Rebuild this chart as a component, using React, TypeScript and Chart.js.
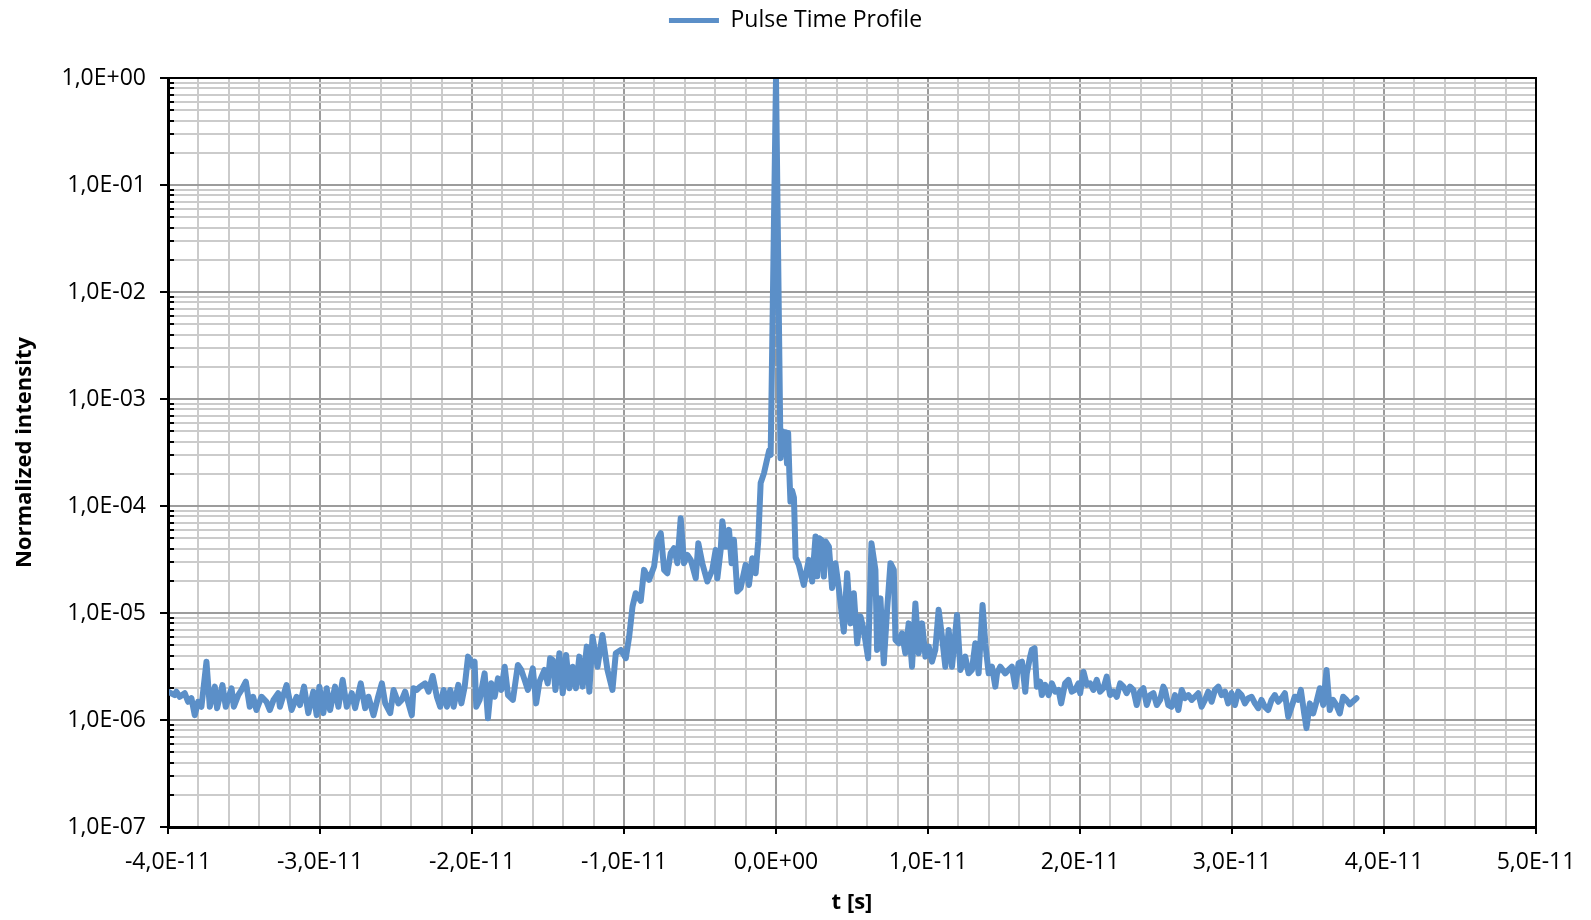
import { useEffect, useRef } from "react";
import { Chart, registerables } from "chart.js";

Chart.register(...registerables);

// Measured samples as [time in ps, normalized intensity]
const LEADING_BASELINE: [number, number][] = [
  [-40.0, 1.84e-6], [-39.56, 1.71e-6], [-39.45, 1.84e-6], [-39.23, 1.65e-6], [-38.9, 1.78e-6],
  [-38.68, 1.48e-6], [-38.46, 1.6e-6], [-38.24, 1.11e-6], [-38.02, 1.48e-6], [-37.8, 1.33e-6],
  [-37.47, 3.5e-6], [-37.25, 1.33e-6], [-36.92, 2.05e-6], [-36.77, 1.29e-6], [-36.42, 2.12e-6],
  [-36.2, 1.33e-6], [-35.82, 1.98e-6], [-35.67, 1.33e-6], [-35.38, 1.71e-6], [-35.16, 1.91e-6],
  [-34.88, 2.28e-6], [-34.62, 1.33e-6], [-34.4, 1.65e-6], [-34.18, 1.24e-6], [-33.85, 1.65e-6],
  [-33.52, 1.48e-6], [-33.3, 1.24e-6], [-33.05, 1.55e-6], [-32.75, 1.78e-6], [-32.64, 1.33e-6],
  [-32.2, 2.12e-6], [-31.87, 1.24e-6], [-31.54, 1.65e-6], [-31.32, 1.38e-6], [-31.05, 2.05e-6],
  [-30.77, 1.16e-6], [-30.44, 1.84e-6], [-30.22, 1.11e-6], [-30.04, 2.05e-6], [-29.78, 1.16e-6],
  [-29.56, 1.98e-6], [-29.34, 1.24e-6], [-29.01, 2.05e-6], [-28.79, 1.33e-6], [-28.51, 2.37e-6],
  [-28.24, 1.33e-6], [-27.91, 1.78e-6], [-27.69, 1.29e-6], [-27.32, 2.2e-6], [-27.03, 1.29e-6],
  [-26.81, 1.65e-6], [-26.48, 1.11e-6], [-26.2, 1.6e-6], [-25.93, 2.2e-6], [-25.71, 1.43e-6],
  [-25.38, 1.16e-6], [-25.16, 1.91e-6], [-24.84, 1.43e-6], [-24.62, 1.54e-6], [-24.4, 1.84e-6],
  [-23.96, 1.11e-6], [-23.85, 1.98e-6], [-23.63, 1.91e-6], [-23.41, 2.05e-6], [-23.08, 2.2e-6],
  [-22.86, 1.84e-6], [-22.59, 2.58e-6], [-22.31, 1.65e-6], [-22.09, 1.33e-6], [-21.87, 1.91e-6],
  [-21.65, 1.33e-6], [-21.43, 1.91e-6], [-21.21, 1.33e-6], [-20.9, 2.13e-6], [-20.7, 1.43e-6],
  [-20.48, 2.05e-6],
];

const PEDESTAL_RISE: [number, number][] = [
  [-20.26, 3.91e-6], [-20.05, 3.51e-6], [-19.94, 3.15e-6], [-19.83, 3.51e-6], [-19.72, 1.33e-6],
  [-19.5, 1.54e-6], [-19.17, 2.73e-6], [-18.95, 1.04e-6], [-18.73, 2.2e-6], [-18.51, 1.65e-6],
  [-18.29, 2.45e-6], [-18.07, 1.91e-6], [-17.85, 3.15e-6], [-17.63, 1.71e-6], [-17.31, 1.54e-6],
  [-16.98, 3.27e-6], [-16.76, 2.94e-6], [-16.54, 2.37e-6], [-16.32, 1.91e-6], [-16.0, 3.04e-6],
  [-15.78, 1.43e-6], [-15.56, 2.28e-6], [-15.23, 2.94e-6], [-15.02, 2.2e-6], [-14.86, 3.78e-6],
  [-14.69, 3.64e-6], [-14.51, 1.91e-6], [-14.25, 4.21e-6], [-14.03, 1.78e-6], [-13.81, 4.06e-6],
  [-13.59, 1.98e-6], [-13.38, 3.15e-6], [-13.16, 1.98e-6], [-12.94, 3.91e-6], [-12.72, 2.05e-6],
  [-12.45, 4.85e-6], [-12.28, 1.84e-6], [-12.07, 6.0e-6], [-11.74, 3.15e-6], [-11.42, 6.24e-6],
  [-11.09, 2.94e-6], [-10.76, 1.91e-6], [-10.54, 4.21e-6], [-10.21, 4.52e-6], [-9.88, 3.78e-6],
  [-9.66, 6.02e-6], [-9.44, 1.15e-5], [-9.23, 1.53e-5], [-8.9, 1.3e-5], [-8.68, 2.53e-5],
  [-8.35, 2.04e-5], [-8.02, 2.72e-5], [-7.8, 4.83e-5], [-7.58, 5.57e-5], [-7.36, 2.53e-5],
  [-7.15, 2.35e-5], [-6.93, 3.62e-5], [-6.71, 4.03e-5], [-6.49, 2.92e-5], [-6.27, 7.7e-5],
  [-6.05, 2.92e-5], [-5.83, 3.49e-5], [-5.61, 3.14e-5], [-5.28, 2.11e-5], [-5.11, 4.49e-5],
  [-4.85, 2.92e-5], [-4.52, 1.97e-5], [-4.19, 2.53e-5], [-3.97, 3.89e-5], [-3.86, 2.11e-5],
  [-3.64, 3.89e-5], [-3.53, 7.2e-5], [-3.31, 4.18e-5], [-3.09, 5.98e-5], [-2.92, 2.92e-5],
  [-2.77, 4.83e-5], [-2.55, 1.59e-5], [-2.33, 1.71e-5], [-2.0, 2.82e-5], [-1.78, 1.83e-5],
  [-1.56, 3.25e-5], [-1.34, 2.35e-5], [-1.17, 4.66e-5],
];

const MAIN_PULSE: [number, number][] = [
  [-1.01, 1.64e-4], [-0.79, 2.03e-4], [-0.62, 2.6e-4], [-0.45, 3.3e-4], [-0.35, 3.0e-4],
  [0.0, 1.0],
  [0.3, 2.8e-4], [0.42, 5.0e-4], [0.55, 3.5e-4], [0.64, 4.9e-4], [0.72, 2.5e-4],
  [0.8, 4.8e-4], [0.88, 2.0e-4], [0.95, 1.1e-4], [1.05, 1.4e-4], [1.18, 1.2e-4],
];

const TRAILING_PEDESTAL: [number, number][] = [
  [1.29, 3.3e-5], [1.5, 2.82e-5], [1.83, 1.83e-5], [2.16, 3.14e-5], [2.38, 1.97e-5],
  [2.6, 5.19e-5], [2.71, 2.2e-5], [2.85, 5.0e-5], [3.0, 4.8e-5], [3.15, 2.19e-5],
  [3.26, 4.66e-5], [3.48, 4.18e-5], [3.69, 1.71e-5], [3.91, 2.92e-5], [4.13, 1.71e-5],
  [4.46, 6.7e-6], [4.68, 2.35e-5], [4.9, 8.0e-6], [5.12, 1.53e-5], [5.34, 5.21e-6],
  [5.56, 9.3e-6], [5.77, 6.95e-6], [6.06, 3.78e-6], [6.28, 4.49e-5], [6.54, 2.53e-5],
  [6.65, 4.52e-6], [6.87, 1.37e-5], [7.09, 3.39e-6], [7.31, 1.07e-5], [7.53, 2.92e-5],
  [7.75, 2.53e-5], [7.86, 5.6e-6], [8.07, 5.21e-6], [8.29, 6.47e-6], [8.51, 4.21e-6],
  [8.73, 8.0e-6], [8.95, 3.15e-6], [9.17, 1.23e-5], [9.39, 4.21e-6], [9.61, 8.0e-6],
  [9.83, 3.91e-6], [10.05, 4.85e-6], [10.26, 3.51e-6], [10.48, 4.52e-6], [10.7, 1.07e-5],
  [10.92, 6.02e-6], [11.14, 3.15e-6], [11.36, 6.95e-6], [11.58, 3.15e-6], [11.91, 9.6e-6],
  [12.13, 2.94e-6], [12.45, 3.91e-6], [12.67, 2.73e-6], [12.89, 2.94e-6], [13.11, 5.21e-6],
  [13.33, 2.73e-6], [13.59, 1.19e-5], [13.77, 5.21e-6], [13.99, 2.73e-6], [14.21, 3.15e-6],
  [14.43, 2.05e-6], [14.54, 2.73e-6], [14.75, 3.15e-6], [15.08, 2.73e-6], [15.3, 2.94e-6],
  [15.52, 3.15e-6], [15.74, 2.05e-6], [15.96, 3.39e-6], [16.18, 3.51e-6], [16.4, 1.84e-6],
  [16.5, 2.73e-6], [16.72, 3.91e-6], [16.83, 4.52e-6], [17.01, 4.69e-6], [17.16, 2.05e-6],
];

const TRAILING_BASELINE: [number, number][] = [
  [17.38, 2.28e-6], [17.49, 1.71e-6], [17.71, 2.13e-6], [17.93, 1.71e-6], [18.15, 2.2e-6],
  [18.37, 1.84e-6], [18.59, 1.91e-6], [18.76, 1.43e-6], [19.02, 2.2e-6], [19.24, 2.37e-6],
  [19.46, 1.84e-6], [19.68, 1.91e-6], [19.9, 2.2e-6], [20.01, 1.78e-6], [20.23, 2.83e-6],
  [20.45, 2.13e-6], [20.67, 2.2e-6], [20.88, 1.91e-6], [21.1, 2.37e-6], [21.32, 1.84e-6],
  [21.54, 1.98e-6], [21.76, 2.54e-6], [21.98, 1.71e-6], [22.2, 1.84e-6], [22.42, 1.65e-6],
  [22.64, 2.2e-6], [22.86, 2.05e-6], [23.07, 1.78e-6], [23.29, 2.05e-6], [23.51, 1.91e-6],
  [23.73, 1.38e-6], [23.95, 1.84e-6], [24.17, 1.98e-6], [24.39, 1.38e-6], [24.61, 1.71e-6],
  [24.83, 1.78e-6], [25.05, 1.38e-6], [25.27, 1.54e-6], [25.48, 2.05e-6], [25.59, 1.91e-6],
  [25.81, 1.38e-6], [26.03, 1.33e-6], [26.25, 1.71e-6], [26.47, 1.24e-6], [26.69, 1.91e-6],
  [26.91, 1.6e-6], [27.13, 1.71e-6], [27.35, 1.54e-6], [27.56, 1.65e-6], [27.78, 1.78e-6],
  [28.0, 1.33e-6], [28.22, 1.54e-6], [28.44, 1.84e-6], [28.66, 1.48e-6], [28.88, 1.91e-6],
  [29.1, 2.05e-6], [29.32, 1.71e-6], [29.54, 1.84e-6], [29.75, 1.43e-6], [29.97, 1.78e-6],
  [30.19, 1.38e-6], [30.41, 1.84e-6], [30.63, 1.71e-6], [30.85, 1.43e-6], [31.07, 1.6e-6],
  [31.29, 1.65e-6], [31.51, 1.43e-6], [31.73, 1.29e-6], [31.94, 1.54e-6], [32.16, 1.33e-6],
  [32.38, 1.24e-6], [32.6, 1.54e-6], [32.82, 1.71e-6], [33.04, 1.48e-6], [33.26, 1.6e-6],
  [33.48, 1.78e-6], [33.7, 1.07e-6], [33.92, 1.33e-6], [34.13, 1.65e-6], [34.35, 1.54e-6],
  [34.53, 1.91e-6], [34.75, 1.15e-6], [34.9, 0.84e-6], [35.12, 1.43e-6], [35.34, 1.15e-6],
  [35.56, 1.48e-6], [35.78, 1.98e-6], [36.0, 1.38e-6], [36.22, 2.94e-6], [36.43, 1.24e-6],
  [36.65, 1.54e-6], [36.87, 1.38e-6], [37.09, 1.15e-6], [37.31, 1.65e-6], [37.53, 1.54e-6],
  [37.75, 1.4e-6], [37.97, 1.5e-6], [38.19, 1.6e-6],
];

const SERIES_LABEL = "Pulse Time Profile";
const X_TITLE = "t [s]";
const Y_TITLE = "Normalized intensity";

const X_TICK_VALUES = [-4e-11, -3e-11, -2e-11, -1e-11, 0, 1e-11, 2e-11, 3e-11, 4e-11, 5e-11];
const X_TICK_LABELS = [
  "-4,0E-11", "-3,0E-11", "-2,0E-11", "-1,0E-11", "0,0E+00",
  "1,0E-11", "2,0E-11", "3,0E-11", "4,0E-11", "5,0E-11",
];
const X_MINOR_DIVISIONS = 5;

const Y_TICK_VALUES = [1e-7, 1e-6, 1e-5, 1e-4, 1e-3, 1e-2, 1e-1, 1];
const Y_TICK_LABELS = [
  "1,0E-07", "1,0E-06", "1,0E-05", "1,0E-04", "1,0E-03", "1,0E-02", "1,0E-01", "1,0E+00",
];

const PS = 1e-12;
const LINE_COLOR = "rgb(91, 143, 200)";
const MAJOR_GRID = "#9c9c9c";
const MINOR_GRID = "#cbcbcb";
const FONT = "'Open Sans', sans-serif";

const xMajorIndex = (v: number) => X_TICK_VALUES.findIndex((m) => Math.abs(m - v) < 1e-16);
const yMajorIndex = (v: number) =>
  Y_TICK_VALUES.findIndex((m) => Math.abs(v / m - 1) < 1e-6);

// Keeps the legend near the top edge, above the gap that precedes the plot area
const legendTopPlugin = {
  id: "legendTop",
  afterLayout(chart: any) {
    const legend = chart.legend;
    if (!legend) return;
    const h = legend.bottom - legend.top;
    legend.top = 3;
    legend.bottom = 3 + h;
  },
};

// Draws the closed plot frame and the short inside minor ticks of the value axis
const framePlugin = {
  id: "plotFrame",
  afterDraw(chart: any) {
    const { ctx, chartArea: a, scales } = chart;
    ctx.save();
    ctx.strokeStyle = "#000";
    ctx.lineWidth = 2;
    ctx.strokeRect(a.left, a.top, a.right - a.left, a.bottom - a.top);
    const y = scales.y;
    for (const t of y.ticks) {
      if (yMajorIndex(t.value) >= 0) continue;
      const py = Math.round(y.getPixelForValue(t.value));
      ctx.beginPath();
      ctx.moveTo(a.left, py);
      ctx.lineTo(a.left + 6, py);
      ctx.stroke();
    }
    ctx.restore();
  },
};

export default function App() {
  const canvasRef = useRef<HTMLCanvasElement | null>(null);

  useEffect(() => {
    document.body.style.margin = "0";
    const canvas = canvasRef.current;
    if (!canvas) return;

    const samples = [
      ...LEADING_BASELINE,
      ...PEDESTAL_RISE,
      ...MAIN_PULSE,
      ...TRAILING_PEDESTAL,
      ...TRAILING_BASELINE,
    ];
    const points = samples.map(([t, v]) => ({ x: t * PS, y: v }));

    const chart = new Chart(canvas, {
      type: "line",
      data: {
        datasets: [
          {
            label: SERIES_LABEL,
            data: points,
            borderColor: LINE_COLOR,
            backgroundColor: LINE_COLOR,
            borderWidth: 6,
            pointRadius: 0,
            pointHoverRadius: 0,
            tension: 0,
            fill: false,
            borderJoinStyle: "round",
            borderCapStyle: "round",
          },
        ],
      },
      options: {
        responsive: false,
        animation: false,
        layout: { padding: { left: 0, right: 0, top: 0, bottom: 0 } },
        plugins: {
          tooltip: { enabled: false },
          legend: {
            display: true,
            position: "top",
            labels: {
              color: "#000",
              font: { family: FONT, size: 23 },
              boxWidth: 50,
              boxHeight: 5,
              padding: 6,
              generateLabels: (c: any) =>
                c.data.datasets.map((ds: any, i: number) => ({
                  text: ds.label,
                  fillStyle: LINE_COLOR,
                  strokeStyle: LINE_COLOR,
                  lineWidth: 0,
                  hidden: false,
                  datasetIndex: i,
                  fontColor: "#000",
                })),
            },
          },
        },
        scales: {
          x: {
            type: "linear",
            min: X_TICK_VALUES[0],
            max: X_TICK_VALUES[X_TICK_VALUES.length - 1],
            afterBuildTicks: (scale: any) => {
              const ticks: { value: number }[] = [];
              for (let i = 0; i < X_TICK_VALUES.length; i++) {
                ticks.push({ value: X_TICK_VALUES[i] });
                if (i < X_TICK_VALUES.length - 1) {
                  const step = (X_TICK_VALUES[i + 1] - X_TICK_VALUES[i]) / X_MINOR_DIVISIONS;
                  for (let k = 1; k < X_MINOR_DIVISIONS; k++) {
                    ticks.push({ value: X_TICK_VALUES[i] + k * step });
                  }
                }
              }
              scale.ticks = ticks;
            },
            afterFit: (scale: any) => {
              scale.height = 93;
            },
            ticks: {
              autoSkip: false,
              maxRotation: 0,
              minRotation: 0,
              padding: 15,
              color: "#000",
              font: { family: FONT, size: 23 },
              callback: (value: any) => {
                const i = xMajorIndex(Number(value));
                return i >= 0 ? X_TICK_LABELS[i] : "";
              },
            },
            grid: {
              color: (ctx: any) => (xMajorIndex(ctx.tick?.value) >= 0 ? MAJOR_GRID : MINOR_GRID),
              lineWidth: 2,
              tickLength: 7,
              tickWidth: 2,
              tickColor: (ctx: any) =>
                xMajorIndex(ctx.tick?.value) >= 0 ? "#000" : "rgba(0,0,0,0)",
            },
            border: { display: true, color: "#000", width: 3 },
            title: {
              display: true,
              text: X_TITLE,
              color: "#000",
              font: { family: FONT, size: 22, weight: "bold" },
              padding: { top: 0, bottom: 4 },
            },
          },
          y: {
            type: "logarithmic",
            min: Y_TICK_VALUES[0],
            max: Y_TICK_VALUES[Y_TICK_VALUES.length - 1],
            afterBuildTicks: (scale: any) => {
              const ticks: { value: number }[] = [];
              for (let i = 0; i < Y_TICK_VALUES.length; i++) {
                ticks.push({ value: Y_TICK_VALUES[i] });
                if (i < Y_TICK_VALUES.length - 1) {
                  for (let m = 2; m <= 9; m++) {
                    ticks.push({ value: Number((Y_TICK_VALUES[i] * m).toPrecision(10)) });
                  }
                }
              }
              scale.ticks = ticks;
            },
            afterFit: (scale: any) => {
              scale.width = 168;
              scale.paddingTop = 78;
            },
            ticks: {
              autoSkip: false,
              padding: 14,
              color: "#000",
              font: { family: FONT, size: 23 },
              callback: (value: any) => {
                const i = yMajorIndex(Number(value));
                return i >= 0 ? Y_TICK_LABELS[i] : "";
              },
            },
            grid: {
              color: (ctx: any) => (yMajorIndex(ctx.tick?.value) >= 0 ? MAJOR_GRID : MINOR_GRID),
              lineWidth: 2,
              tickLength: 8,
              tickWidth: 2,
              tickColor: (ctx: any) =>
                yMajorIndex(ctx.tick?.value) >= 0 ? "#000" : "rgba(0,0,0,0)",
            },
            border: { display: true, color: "#000", width: 3 },
            title: {
              display: true,
              text: Y_TITLE,
              color: "#000",
              font: { family: FONT, size: 22, weight: "bold" },
              padding: { top: 12, bottom: 0 },
            },
          },
          spacer: {
            type: "linear",
            position: "right",
            display: true,
            afterFit: (scale: any) => {
              scale.width = 55;
            },
            ticks: { display: false },
            grid: { display: false, drawTicks: false },
            border: { display: false },
            title: { display: false },
          },
        },
      },
      plugins: [legendTopPlugin, framePlugin],
    } as any);

    return () => chart.destroy();
  }, []);

  return (
    <canvas
      ref={canvasRef}
      width={1591}
      height={920}
      style={{ display: "block", width: 1591, height: 920 }}
    />
  );
}
